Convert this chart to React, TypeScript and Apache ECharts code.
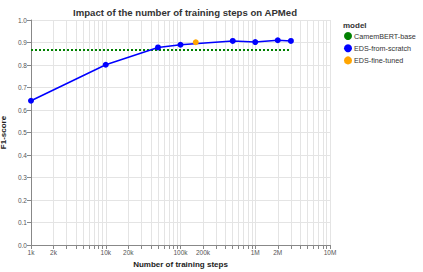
import React, { useEffect, useRef } from "react";
import * as echarts from "echarts";

const scratchSteps = [1000, 10000, 50000, 100000, 500000, 1000000, 2000000, 3000000];
const scratchF1 = [0.641, 0.801, 0.878, 0.89, 0.907, 0.902, 0.91, 0.907];
const fineSteps = [160000];
const fineF1 = [0.901];
const baseSteps = [1000, 3000000];
const baseF1 = [0.867, 0.867];
const tickValues = [
  1000, 2000, 3000, 4000, 5000, 6000, 7000, 8000, 9000,
  10000, 20000, 30000, 40000, 50000, 60000, 70000, 80000, 90000,
  100000, 200000, 300000, 400000, 500000, 600000, 700000, 800000, 900000,
  1000000, 2000000, 3000000, 4000000, 5000000, 6000000, 7000000, 8000000, 9000000,
  10000000,
];
const labelValues = [1000, 2000, 10000, 20000, 100000, 200000, 1000000, 2000000, 10000000];

const fmt = (v: number) => (v >= 1e6 ? v / 1e6 + "M" : v / 1e3 + "k");

export default function App() {
  const ref = useRef<HTMLDivElement>(null);
  useEffect(() => {
    const chart = echarts.init(ref.current!, null, { renderer: "svg" });
    const font = "Liberation Sans, Arial, sans-serif";
    chart.setOption({
      animation: false,
      textStyle: { fontFamily: font },
      title: {
        text: "Impact of the number of training steps on APMed",
        left: 180,
        textAlign: "center",
        top: 2,
        textStyle: { fontSize: 9.6, fontWeight: "bold", color: "#333", fontFamily: font },
      },
      grid: { left: 31, right: 93, top: 20, bottom: 27, containLabel: false, outerBoundsMode: "none" },
      legend: {
        orient: "vertical",
        left: 344,
        top: 32,
        padding: 0,
        icon: "circle",
        itemWidth: 8,
        itemHeight: 8,
        itemGap: 4.2,
        textStyle: { fontSize: 7.2, color: "#333", padding: [0, 0, 0, -3] },
        data: ["CamemBERT-base", "EDS-from-scratch", "EDS-fine-tuned"],
      },
      graphic: [
        {
          type: "text",
          left: 343,
          top: 21,
          style: { text: "model", fontSize: 8, fontWeight: "bold", fill: "#333", fontFamily: font },
        },
      ],
      xAxis: {
        type: "log",
        logBase: 10,
        min: 1000,
        max: 10000000,
        name: "Number of training steps",
        nameLocation: "middle",
        nameGap: 15,
        nameTextStyle: { fontSize: 8, fontWeight: "bold", color: "#222" },
        axisLine: { lineStyle: { color: "#888" } },
        axisTick: { show: true, length: 4, customValues: tickValues, lineStyle: { color: "#888" } },
        axisLabel: {
          customValues: labelValues,
          fontSize: 6.5,
          color: "#555",
          margin: 4,
          formatter: (v: number) => fmt(v),
        },
        splitLine: { show: true, lineStyle: { color: "#e4e4e4" } },
      },
      yAxis: {
        type: "value",
        min: 0,
        max: 1,
        interval: 0.1,
        name: "F1-score",
        nameLocation: "middle",
        nameGap: 17,
        nameTextStyle: { fontSize: 8, fontWeight: "bold", color: "#222" },
        axisLine: { show: true, lineStyle: { color: "#888" } },
        axisTick: { show: true, length: 4, lineStyle: { color: "#888" } },
        axisLabel: { fontSize: 6.5, color: "#555", margin: 4, formatter: (v: number) => v.toFixed(1) },
        splitLine: { show: true, lineStyle: { color: "#e4e4e4" } },
      },
      series: [
        {
          name: "CamemBERT-base",
          type: "line",
          data: baseSteps.map((s, i) => [s, baseF1[i]]),
          showSymbol: false,
          symbol: "circle",
          itemStyle: { color: "green" },
          lineStyle: { color: "green", width: 2, type: [2, 2] },
          z: 2,
        },
        {
          name: "EDS-from-scratch",
          type: "line",
          data: scratchSteps.map((s, i) => [s, scratchF1[i]]),
          symbol: "circle",
          symbolSize: 6,
          itemStyle: { color: "blue" },
          lineStyle: { color: "blue", width: 1.5 },
          z: 3,
        },
        {
          name: "EDS-fine-tuned",
          type: "line",
          data: fineSteps.map((s, i) => [s, fineF1[i]]),
          symbol: "circle",
          symbolSize: 6,
          itemStyle: { color: "orange" },
          lineStyle: { color: "orange", width: 1.5 },
          z: 4,
        },
      ],
    });
    return () => chart.dispose();
  }, []);
  return <div ref={ref} style={{ position: "absolute", left: 0, top: 0, width: 423, height: 272 }} />;
}
